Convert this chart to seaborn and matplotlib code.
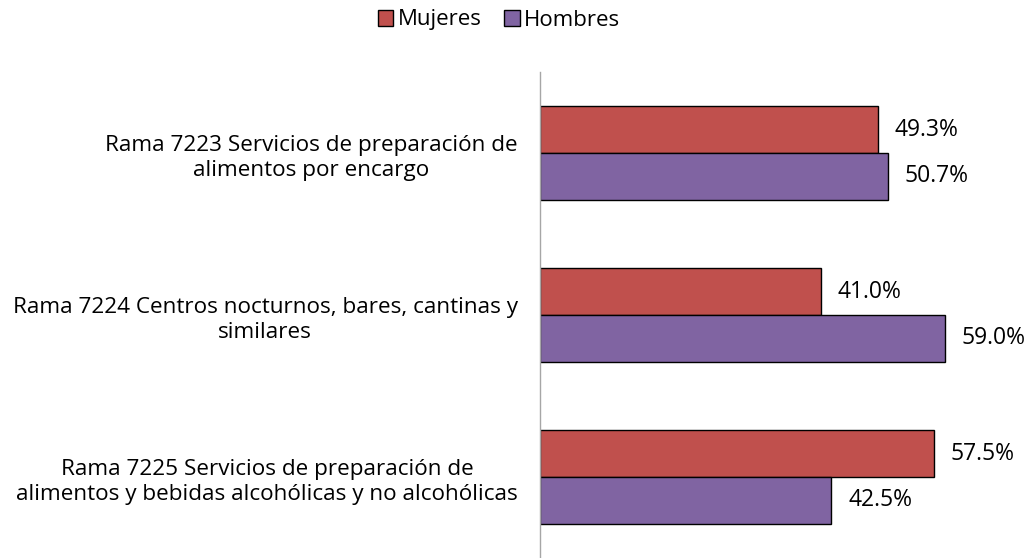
import pandas as pd
import matplotlib.pyplot as plt
import seaborn as sns

# Data
ramas = ['Rama 7223 Servicios de preparación de\nalimentos por encargo',
         'Rama 7224 Centros nocturnos, bares, cantinas y\nsimilares',
         'Rama 7225 Servicios de preparación de\nalimentos y bebidas alcohólicas y no alcohólicas']
mujeres = [49.3, 41.0, 57.5]
hombres = [50.7, 59.0, 42.5]
sexos = ['Mujeres', 'Hombres']
colores = ['#C0504D', '#8064A2']

df = pd.DataFrame({
    'rama': ramas * 2,
    'sexo': [sexos[0]] * 3 + [sexos[1]] * 3,
    'pct': mujeres + hombres,
})

sns.set_style('white')
plt.rcParams['font.family'] = ['Open Sans', 'DejaVu Sans']
plt.rcParams['text.color'] = 'black'
plt.rcParams['ytick.color'] = 'black'

fig = plt.figure(figsize=(10.31, 5.58), dpi=100)
ax = fig.add_axes([540 / 1031, 0.0, 480 / 1031, 486 / 558])

sns.barplot(data=df, y='rama', x='pct', hue='sexo', hue_order=sexos,
            palette=colores, saturation=1, orient='h', width=0.58,
            edgecolor='black', linewidth=1, ax=ax, legend=False)

for cont in ax.containers:
    ax.bar_label(cont, labels=[f'{v:.1f}%' for v in cont.datavalues],
                 padding=12, fontsize=16.5, color='black')

ax.set_xlim(0, 70)
ax.set_ylim(2.5, -0.5)
ax.set_xlabel('')
ax.set_ylabel('')
ax.set_xticks([])
ax.tick_params(axis='y', length=0, pad=16, labelsize=16.2)
for lbl in ax.get_yticklabels():
    lbl.set_multialignment('center')
    lbl.set_linespacing(1.3)

for s in ['top', 'right', 'bottom']:
    ax.spines[s].set_visible(False)
ax.spines['left'].set_color('#A6A6A6')
ax.spines['left'].set_linewidth(1)

handles = [plt.Rectangle((0, 0), 1, 1, facecolor=c, edgecolor='black', linewidth=1)
           for c in colores]
fig.legend(handles, sexos, loc='center', bbox_to_anchor=(499 / 1031, 1 - 20 / 558),
           ncol=2, frameon=False, fontsize=16, handlelength=0.7,
           handleheight=0.7, handletextpad=0.2, columnspacing=1.0)

fig.savefig('out.png', dpi=100)
